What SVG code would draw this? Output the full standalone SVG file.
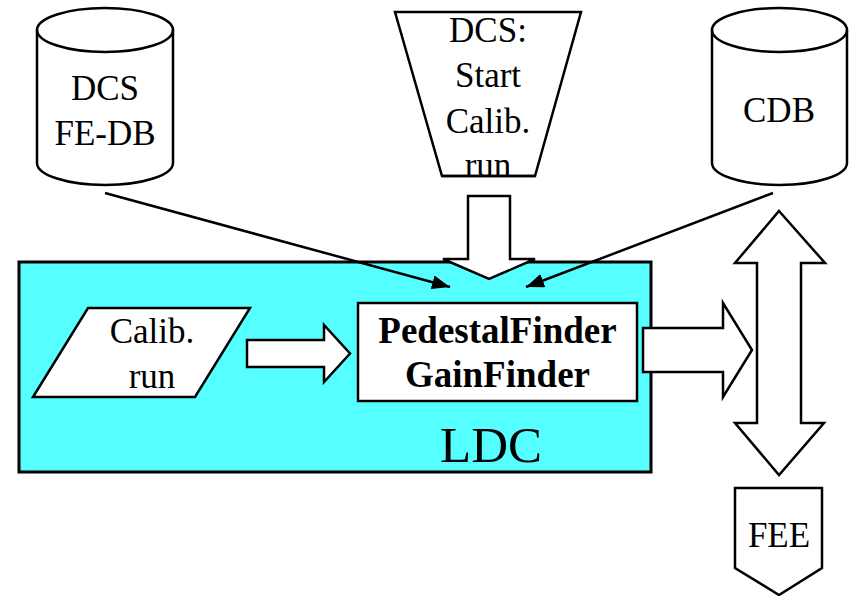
<svg xmlns="http://www.w3.org/2000/svg" width="849" height="596" viewBox="0 0 849 596">
<style>
.s{fill:#fff;stroke:#000;stroke-width:2.5;stroke-linejoin:miter}
text{font-family:'Liberation Serif','Times New Roman',Times,Tinos,serif;font-size:35px;fill:#000;text-anchor:middle}
.b{font-weight:bold;font-size:37px}
.ln{stroke:#000;stroke-width:2.5;fill:none}
</style>
<defs>
<marker id="ah" markerUnits="userSpaceOnUse" markerWidth="20" markerHeight="16" refX="18" refY="7" orient="auto">
<path d="M0,0 L18,7 L0,14 Z" fill="#000"/>
</marker>
</defs>
<rect width="849" height="596" fill="#fff"/>
<g id="ldc">
<rect x="19" y="262" width="632" height="210" fill="#55FFFF" stroke="#000" stroke-width="3"/>
<text x="491" y="462" font-family="Liberation Serif" style="font-size:51px">LDC</text>
</g>
<g id="dcs-fedb">
<path class="s" d="M37,30 L37,163 A68,22 0 0 0 173,163 L173,30 A68,22 0 0 0 37,30 Z"/>
<path class="ln" d="M37,30 A68,22 0 0 0 173,30"/>
<text x="105" y="100" font-family="Liberation Serif">DCS</text>
<text x="105" y="145" font-family="Liberation Serif">FE-DB</text>
</g>
<g id="dcs-start">
<path class="s" d="M395,12 L581,12 L535,176 L442,176 Z"/>
<text x="488" y="42" font-family="Liberation Serif">DCS:</text>
<text x="488" y="87" font-family="Liberation Serif">Start</text>
<text x="488" y="133" font-family="Liberation Serif">Calib.</text>
<text x="488" y="177" font-family="Liberation Serif">run</text>
<path class="ln" d="M442,176 L535,176"/>
</g>
<g id="cdb">
<path class="s" d="M712,30 L712,163 A67.5,22 0 0 0 847,163 L847,30 A67.5,22 0 0 0 712,30 Z"/>
<path class="ln" d="M712,30 A67.5,22 0 0 0 847,30"/>
<text x="779" y="122" font-family="Liberation Serif">CDB</text>
</g>
<g id="calib-run">
<path class="s" d="M88,308 L250,308 L195,397 L33,397 Z"/>
<text x="152" y="343" font-family="Liberation Serif">Calib.</text>
<text x="152" y="388" font-family="Liberation Serif">run</text>
</g>
<g id="finder">
<rect class="s" x="358" y="303" width="279" height="98"/>
<text class="b" x="497.5" y="343" font-family="Liberation Serif">PedestalFinder</text>
<text class="b" x="497.5" y="387" font-family="Liberation Serif">GainFinder</text>
</g>
<g id="fee">
<path class="s" d="M735,488 L822,488 L822,568 L779,595 L735,568 Z"/>
<text x="779" y="547" font-family="Liberation Serif">FEE</text>
</g>
<g id="connectors">
<line class="ln" x1="105" y1="193" x2="450" y2="287" marker-end="url(#ah)"/>
<line class="ln" x1="773" y1="193" x2="526" y2="287" marker-end="url(#ah)"/>
<path class="s" d="M468,196 L510,196 L510,259 L535,259 L489,279 L443,259 L468,259 Z"/>
<path class="s" d="M247,340 L324,340 L324,325 L350,353.5 L324,382 L324,367 L247,367 Z"/>
<path class="s" d="M643,328 L723,328 L723,303 L752,350 L723,397 L723,372 L643,372 Z"/>
<path class="s" d="M779,211 L825,263 L801,263 L801,423 L824,423 L779,475 L735,423 L757,423 L757,263 L735,263 Z"/>
</g>
</svg>
